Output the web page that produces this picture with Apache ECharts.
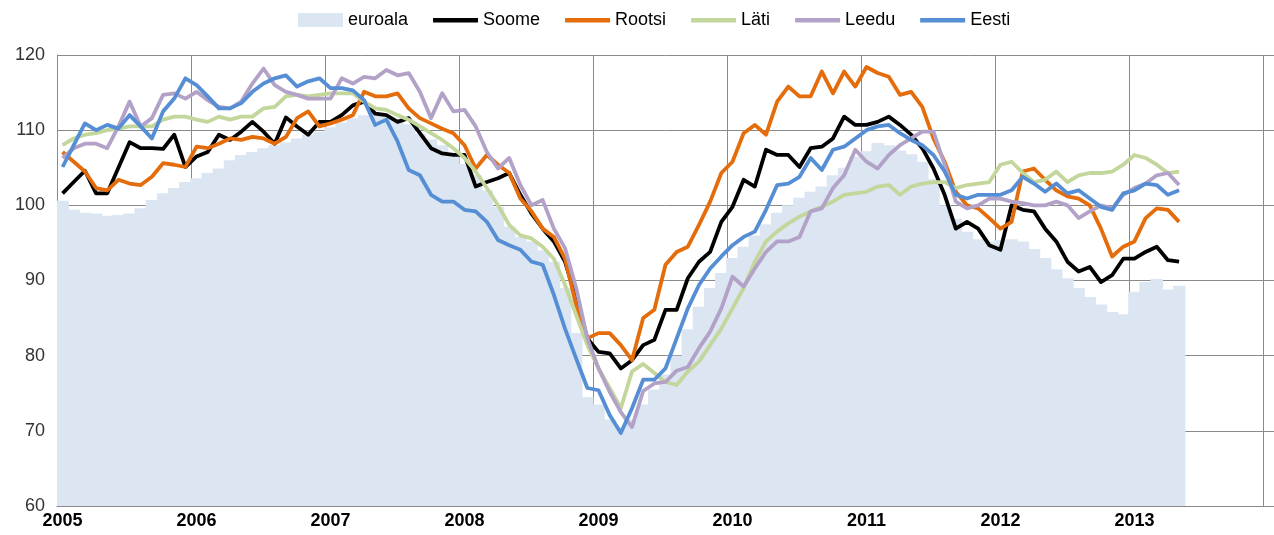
<!DOCTYPE html>
<html>
<head>
<meta charset="utf-8">
<script src="https://cdn.jsdelivr.net/npm/echarts@6/dist/echarts.min.js"></script>
<style>
html,body{margin:0;padding:0;background:#fff;overflow:hidden;}
#chart{width:1274px;height:535px;}
</style>
</head>
<body>
<div id="chart"></div>
<script>
const years = ['2005','2006','2007','2008','2009','2010','2011','2012','2013'];
const months = ['01','02','03','04','05','06','07','08','09','10','11','12'];
const extraCategory = '2014-01';
const yTicks = [60, 70, 80, 90, 100, 110, 120];

const euroala = [
100.6, 99.4, 99.0, 98.9, 98.6, 98.7, 98.9, 99.6, 100.7, 101.6, 102.3, 103.1,
103.6, 104.3, 104.9, 106.0, 106.7, 107.1, 107.6, 108.0, 108.4, 108.9, 109.4, 109.8,
110.4, 111.0, 111.6, 112.0, 112.0, 111.8, 111.3, 110.8, 109.5, 108.8, 108.0, 106.5,
105.5, 104.0, 102.0, 99.8, 97.2, 95.8, 95.2, 94.0, 92.5, 89.0, 83.0, 74.5,
73.5, 71.5, 70.5, 71.5, 73.5, 75.5, 77.5, 80.0, 83.5, 86.5, 89.0, 91.0,
93.0, 94.5, 96.0, 97.5, 99.0, 100.0, 101.0, 101.8, 102.5, 104.0, 105.0, 106.5,
107.2, 108.3, 108.0, 107.3, 106.8, 105.8, 103.5, 100.0, 98.2, 96.5, 95.5, 95.2,
95.4, 95.5, 95.2, 94.2, 93.0, 91.5, 90.3, 89.0, 87.8, 86.8, 85.8, 85.5,
88.5, 89.8, 90.2, 88.8, 89.3
];
const soome = [
101.6, 103.1, 104.6, 101.6, 101.6, 105.0, 108.4, 107.6, 107.6, 107.5, 109.4, 105.1,
106.5, 107.1, 109.4, 108.7, 109.8, 111.1, 109.8, 108.2, 111.7, 110.5, 109.4, 111.1,
111.1, 112.0, 113.3, 113.8, 112.2, 112.0, 111.1, 111.6, 109.6, 107.6, 106.9, 106.7,
106.7, 102.5, 103.1, 103.6, 104.3, 101.4, 98.9, 96.9, 95.2, 92.5, 87.6, 82.3,
80.5, 80.3, 78.3, 79.4, 81.4, 82.1, 86.1, 86.1, 90.3, 92.5, 93.8, 97.8,
99.8, 103.4, 102.5, 107.4, 106.7, 106.7, 105.1, 107.6, 107.8, 108.9, 111.8, 110.7,
110.7, 111.1, 111.8, 110.7, 109.4, 107.6, 104.9, 101.4, 96.9, 97.8, 96.9, 94.7,
94.1, 100.0, 99.4, 99.2, 96.9, 95.2, 92.5, 91.2, 91.8, 89.8, 90.7, 92.9,
92.9, 93.8, 94.5, 92.7, 92.5
];
const rootsi = [
107.1, 105.8, 104.5, 102.3, 102.0, 103.4, 102.9, 102.7, 103.8, 105.6, 105.4, 105.1,
107.8, 107.6, 108.2, 108.9, 108.7, 109.1, 108.9, 108.2, 109.1, 111.6, 112.5, 110.5,
110.9, 111.4, 112.0, 115.1, 114.5, 114.5, 114.9, 112.9, 111.6, 110.9, 110.2, 109.6,
108.0, 104.9, 106.7, 105.4, 104.3, 100.9, 99.2, 96.9, 95.8, 92.9, 86.7, 82.3,
83.0, 83.0, 81.4, 79.4, 85.0, 86.1, 92.1, 93.8, 94.5, 97.4, 100.5, 104.3,
105.8, 109.6, 110.7, 109.4, 113.8, 115.8, 114.5, 114.5, 117.8, 114.9, 117.8, 115.8,
118.4, 117.6, 117.1, 114.7, 115.1, 113.1, 108.9, 105.8, 101.8, 100.0, 99.6, 98.3,
96.9, 97.8, 104.5, 104.9, 103.4, 102.0, 101.2, 100.9, 100.0, 96.9, 93.2, 94.5,
95.2, 98.3, 99.6, 99.4, 97.8
];
const lati = [
108.0, 108.9, 109.4, 109.6, 110.0, 110.2, 110.5, 110.5, 110.5, 111.4, 111.8, 111.8,
111.4, 111.1, 111.8, 111.4, 111.8, 111.8, 112.9, 113.1, 114.5, 114.7, 114.5, 114.7,
114.9, 114.9, 114.9, 113.8, 112.9, 112.7, 112.0, 111.4, 110.5, 109.6, 108.7, 107.6,
106.3, 104.5, 102.3, 100.0, 97.4, 96.0, 95.6, 94.5, 92.9, 89.4, 85.4, 81.4,
78.3, 75.7, 73.0, 77.9, 78.9, 77.7, 76.5, 76.1, 77.9, 79.2, 81.4, 83.6,
86.3, 89.0, 92.5, 95.2, 96.5, 97.6, 98.5, 99.2, 99.8, 100.5, 101.4, 101.6,
101.8, 102.5, 102.7, 101.4, 102.5, 102.9, 103.1, 103.1, 102.3, 102.7, 102.9, 103.1,
105.4, 105.8, 104.3, 103.1, 103.4, 104.5, 103.1, 104.0, 104.3, 104.3, 104.5, 105.4,
106.7, 106.3, 105.4, 104.3, 104.5
];
const leedu = [
106.3, 107.6, 108.2, 108.2, 107.6, 110.5, 113.8, 110.5, 111.6, 114.7, 114.9, 114.2,
115.1, 114.0, 113.1, 112.9, 113.8, 116.2, 118.2, 116.0, 115.1, 114.7, 114.2, 114.2,
114.2, 116.9, 116.2, 117.1, 116.9, 118.0, 117.3, 117.6, 115.1, 111.6, 114.9, 112.5,
112.7, 110.5, 107.1, 104.9, 106.3, 102.7, 100.0, 100.7, 96.9, 94.3, 89.0, 82.3,
78.3, 75.2, 72.5, 70.5, 75.3, 76.3, 76.5, 78.0, 78.5, 81.0, 83.2, 86.3,
90.5, 89.2, 91.6, 93.8, 95.2, 95.2, 95.8, 99.2, 99.6, 102.3, 104.0, 107.4,
105.8, 104.9, 106.7, 108.0, 108.9, 109.8, 109.8, 105.4, 100.5, 99.6, 100.0, 100.9,
100.9, 100.5, 100.3, 100.0, 100.0, 100.5, 100.0, 98.3, 99.2, 100.0, 99.6, 101.4,
102.3, 102.9, 104.0, 104.3, 102.7
];
const eesti = [
105.1, 108.0, 110.9, 110.0, 110.7, 110.2, 112.0, 110.5, 108.9, 112.5, 114.2, 116.9,
116.0, 114.5, 112.9, 112.9, 113.6, 115.1, 116.2, 116.9, 117.3, 115.8, 116.5, 116.9,
115.6, 115.6, 115.3, 114.0, 110.7, 111.4, 108.5, 104.7, 104.0, 101.4, 100.5, 100.5,
99.4, 99.2, 97.8, 95.4, 94.7, 94.1, 92.5, 92.1, 88.1, 83.6, 79.6, 75.7,
75.4, 72.1, 69.7, 73.0, 76.8, 76.8, 78.3, 82.3, 86.3, 89.4, 91.6, 93.2,
94.7, 95.8, 96.5, 99.4, 102.7, 102.9, 103.8, 106.3, 104.7, 107.4, 107.8, 108.9,
110.0, 110.5, 110.7, 109.6, 108.7, 108.0, 106.7, 104.5, 101.4, 100.9, 101.4, 101.4,
101.4, 102.0, 103.8, 102.9, 101.8, 102.9, 101.6, 102.0, 100.9, 99.8, 99.4, 101.6,
102.0, 102.9, 102.7, 101.4, 102.0
];

const categories = [];
years.forEach(function (y) { months.forEach(function (m) { categories.push(y + '-' + m); }); });
categories.push(extraCategory);
const lastLabelIndex = (years.length - 1) * 12;

const gridColor = '#8a8a8a';
const areaColor = '#dce6f2';
const lineIcon = 'path://M0,0h0.01v0.01h-0.01zM0,5h45v4.5h-45zM0,13.99h0.01v0.01h-0.01z';

function lineSeries(name, data, color) {
  return {
    name: name, type: 'line', data: data, symbol: 'none', smooth: false,
    lineStyle: { color: color, width: 3.8, join: 'round' },
    itemStyle: { color: color },
    emphasis: { disabled: true }, z: 3
  };
}

const chart = echarts.init(document.getElementById('chart'), null, { renderer: 'canvas' });
chart.setOption({
  animation: false,
  backgroundColor: '#ffffff',
  textStyle: { fontFamily: 'Liberation Sans, Arial, sans-serif' },
  legend: {
    top: 6, left: 293, itemWidth: 45, itemHeight: 14, itemGap: 25,
    textStyle: { fontSize: 18, color: '#000' },
    data: [
      { name: 'euroala', icon: 'rect' },
      { name: 'Soome', icon: lineIcon },
      { name: 'Rootsi', icon: lineIcon },
      { name: 'Läti', icon: lineIcon },
      { name: 'Leedu', icon: lineIcon },
      { name: 'Eesti', icon: lineIcon }
    ]
  },
  grid: { left: 57, right: -2, top: 55, bottom: 29, containLabel: false },
  xAxis: {
    type: 'category', data: categories, boundaryGap: true,
    axisLine: { show: true, lineStyle: { color: gridColor, width: 1 } },
    axisTick: { show: false },
    axisLabel: {
      interval: function (i) { return i % 12 === 0 && i <= lastLabelIndex; },
      formatter: function (v) { return v.slice(0, 4); },
      fontSize: 18, fontWeight: 'bold', color: '#000', margin: 6
    },
    splitLine: {
      show: true,
      interval: function (i) { return i % 12 === 0; },
      lineStyle: { color: gridColor, width: 1 }
    }
  },
  yAxis: {
    type: 'value', min: yTicks[0], max: yTicks[yTicks.length - 1], interval: 10,
    axisLine: { show: true, lineStyle: { color: gridColor, width: 1 } },
    axisTick: { show: false },
    axisLabel: { fontSize: 18, color: '#333', margin: 12 },
    splitLine: { show: true, lineStyle: { color: gridColor, width: 1 } }
  },
  series: [
    {
      name: 'euroala', type: 'bar', data: euroala, barCategoryGap: '-12%', barGap: '0%',
      clip: true,
      itemStyle: { color: areaColor },
      emphasis: { disabled: true }, z: 1
    },
    lineSeries('Soome', soome, '#000000'),
    lineSeries('Rootsi', rootsi, '#e46c0a'),
    lineSeries('Läti', lati, '#c3d69b'),
    lineSeries('Leedu', leedu, '#b3a2c7'),
    lineSeries('Eesti', eesti, '#558ed5')
  ]
});
</script>
</body>
</html>
